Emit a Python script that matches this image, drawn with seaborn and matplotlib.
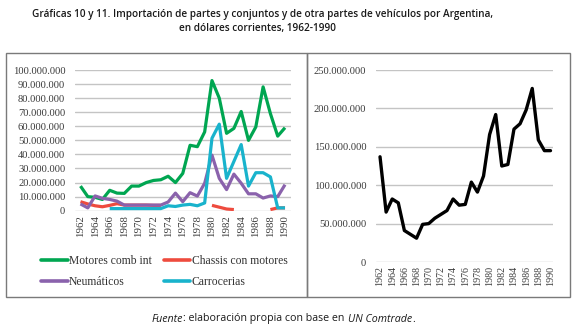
import numpy as np
import pandas as pd
import matplotlib
matplotlib.use("Agg")
import matplotlib.pyplot as plt
from matplotlib.lines import Line2D
from matplotlib.patches import Rectangle
from matplotlib.ticker import FuncFormatter, FixedLocator
import seaborn as sns

nan = np.nan
years = list(range(1962, 1991))

# Gráfica 10 (millones de dólares)
motores = [17.5, 10, 9.5, 8, 14.5, 12.5, 12.3, 17.5, 17.5, 20, 21.5, 22, 24.5, 20,
           26.5, 46.5, 45.5, 56, 92.5, 80, 55, 58.5, 70.5, 50, 59.5, 88, 69, 53, 59]
chassis = [6.4, 4.8, 3.5, 2.8, 3.8, 5, 4, 4, 4, 4, 3.8, 3.8,
           nan, nan, nan, nan, nan, nan,
           3.8, 2.5, 1.2, 0.8, nan, nan, nan, nan, 0.8, 2, 2]
neumaticos = [4.8, 2, 10.5, 8.8, 8, 6.8, 4, 4, 4, 4, 4, 4, 6.2, 12.5, 6.4, 12.8,
              10.4, 19.5, 39.5, 23, 15, 26, 19.5, 12, 12, 9, 10.5, 10, 18.5]
carrocerias = [nan, nan, nan, nan, 1.5, 1.5, 1.5, 1.5, 1.5, 1.5, 1.5, 1.5, 3.5, 3,
               4, 4.5, 3.5, 5.5, 51.5, 61.5, 23, 35, 47, 17.5, 27, 27, 24, 2, 2]
series_names = ["Motores comb int", "Chassis con motores", "Neumáticos", "Carrocerias"]
series_vals = [motores, chassis, neumaticos, carrocerias]
series_colors = ["#00A651", "#EE4B3E", "#8A62AC", "#19B3CC"]

# Gráfica 11 (millones de dólares)
total = [137, 65, 82, 77, 41, 36, 31, 49, 50, 57, 62, 67, 82, 74, 75, 104, 91, 112,
         166, 192, 125, 127, 173, 180, 198, 226, 159, 145, 145]

left_ticks = list(range(0, 100_000_001, 10_000_000))
right_ticks = list(range(0, 250_000_001, 50_000_000))
year_ticks = list(range(1962, 1991, 2))

title1 = "Gráficas 10 y 11. Importación de partes y conjuntos y de otra partes de vehículos por Argentina,"
title2 = "en dólares corrientes, 1962-1990"

# ---------- long-form data with segment ids (gaps in lines) ----------
rows = []
for name, vals in zip(series_names, series_vals):
    seg = 0
    prev_nan = True
    for y, v in zip(years, vals):
        if np.isnan(v):
            prev_nan = True
            continue
        if prev_nan:
            seg += 1
            prev_nan = False
        rows.append({"Año": y, "valor": v * 1e6, "serie": name, "seg": f"{name}-{seg}"})
df_left = pd.DataFrame(rows)
df_right = pd.DataFrame({"Año": years, "valor": np.array(total) * 1e6})

sns.set_theme(style="white")
SERIF = ["Liberation Serif", "DejaVu Serif"]
plt.rcParams["font.family"] = SERIF

W, H = 575, 329
fig = plt.figure(figsize=(W / 100, H / 100), dpi=100)
fig.patch.set_facecolor("white")


def ax_rect(x0, x1, ytop, ybot):
    return [x0 / W, 1 - ybot / H, (x1 - x0) / W, (ybot - ytop) / H]


# panel boxes
for (x0, x1) in [(6, 307), (307, 570)]:
    fig.add_artist(Rectangle((x0 / W, 1 - 297 / H), (x1 - x0) / W, (297 - 52.5) / H,
                             transform=fig.transFigure, fill=False,
                             edgecolor="#7a7a7a", linewidth=1.0))

fmt = FuncFormatter(lambda v, p: f"{int(round(v)):,}".replace(",", "."))
grid_color = "#c4c4c4"

# ---------- left chart ----------
axL = fig.add_axes(ax_rect(75, 290.5, 70, 210.7))
sns.lineplot(data=df_left, x="Año", y="valor", hue="serie", units="seg", estimator=None,
             hue_order=series_names, palette=series_colors, linewidth=2.3,
             legend=False, ax=axL, solid_capstyle="butt")
axL.set_ylim(0, 100_000_000)
axL.set_xlim(1961.25, 1990.75)
axL.yaxis.set_major_locator(FixedLocator(left_ticks))
axL.yaxis.set_major_formatter(fmt)
axL.xaxis.set_major_locator(FixedLocator(year_ticks))
axL.set_xlabel("")
axL.set_ylabel("")

# ---------- right chart ----------
axR = fig.add_axes(ax_rect(376, 553, 70, 262))
sns.lineplot(data=df_right, x="Año", y="valor", color="black", linewidth=2.4,
             ax=axR, legend=False)
axR.set_ylim(0, 250_000_000)
axR.set_xlim(1961.34, 1990.41)
axR.yaxis.set_major_locator(FixedLocator(right_ticks))
axR.yaxis.set_major_formatter(fmt)
axR.xaxis.set_major_locator(FixedLocator(year_ticks))
axR.set_xlabel("")
axR.set_ylabel("")

for ax, fs_y, fs_x in [(axL, 7.6, 7.8), (axR, 7.6, 7.2)]:
    ax.set_facecolor("none")
    ax.grid(axis="y", color=grid_color, linewidth=1.0)
    ax.grid(axis="x", visible=False)
    ax.set_axisbelow(True)
    for s in ax.spines.values():
        s.set_visible(False)
    ax.tick_params(axis="both", length=0, colors="#3a3a3a",
                   labelfontfamily="Liberation Serif")
    ax.tick_params(axis="y", pad=7, labelsize=fs_y)
    ax.tick_params(axis="x", pad=3, labelrotation=90, labelsize=fs_x)
    for lab in ax.get_xticklabels():
        lab.set_va("top")

# legend (column-major order so rows read: Motores | Chassis, Neumáticos | Carrocerias)
order = [0, 2, 1, 3]
handles = [Line2D([], [], color=series_colors[i], linewidth=2.6) for i in order]
labels = [series_names[i] for i in order]
leg = axL.legend(handles, labels, ncol=2, frameon=False,
                 loc="upper left", bbox_to_anchor=(41 / W, 1 - 255 / H),
                 bbox_transform=fig.transFigure, borderpad=0, borderaxespad=0,
                 handlelength=2.3, handletextpad=0.1, columnspacing=1.0,
                 labelspacing=0.75, prop={"family": SERIF, "size": 8.4})
for t in leg.get_texts():
    t.set_color("#333333")

# ---------- title & source ----------
sans = ["Open Sans", "DejaVu Sans"]
t1 = fig.text(263 / W, 1 - 14 / H, title1, ha="center", va="center",
              family=sans, weight="semibold", fontsize=8.5, color="#1a1a1a")
t2 = fig.text(257 / W, 1 - 29 / H, title2, ha="center", va="center",
              family=sans, weight="semibold", fontsize=8.5, color="#1a1a1a")
fig.canvas.draw()
r = fig.canvas.get_renderer()
w1 = t1.get_window_extent(r).width
scale = 460 / w1
t1.set_fontsize(8.5 * scale)
t2.set_fontsize(8.5 * scale)

pieces = [("Fuente", "italic"), (": elaboración propia con base en", "normal"),
          ("UN Comtrade", "italic"), (".", "normal")]
gaps = [0, 0, 3, 0]
fs = 7.6
texts = []
for s, st in pieces:
    t = fig.text(0, 1 - 319 / H, s, ha="left", va="center", family=sans,
                 style=st, fontsize=fs, color="#1a1a1a")
    texts.append(t)
fig.canvas.draw()
widths = [t.get_window_extent(r).width for t in texts]
sc = 260 / sum(widths)
for t in texts:
    t.set_fontsize(fs * sc)
fig.canvas.draw()
widths = [t.get_window_extent(r).width for t in texts]
x = 152
for t, w, g in zip(texts, widths, gaps):
    x += g
    t.set_x(x / W)
    x += w

fig.savefig("out.png", dpi=100, facecolor="white")
